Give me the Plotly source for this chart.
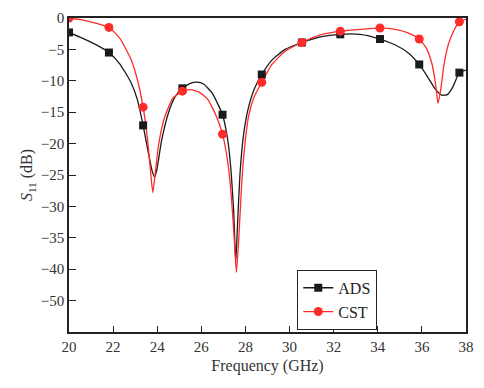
import plotly.graph_objects as go

# Marker positions (GHz) and values (dB)
ads_marker_x = [20.0, 21.81, 23.36, 25.14, 26.96, 28.74, 30.56, 32.3, 34.1, 35.88, 37.7]
ads_marker_y = [-2.3, -5.5, -17.1, -11.2, -15.4, -9.0, -3.9, -2.6, -3.35, -7.4, -8.7]
cst_marker_x = [20.0, 21.81, 23.36, 25.14, 26.96, 28.74, 30.56, 32.3, 34.1, 35.88, 37.7]
cst_marker_y = [0.0, -1.5, -14.2, -11.65, -18.5, -10.25, -3.9, -2.1, -1.6, -3.35, -0.6]

# Curve samples (GHz, dB)
ads_curve_x = [20.0, 20.6, 21.2, 21.81, 22.3, 22.8, 23.1, 23.36, 23.6, 23.78, 23.88, 23.98, 24.2, 24.5,
               24.8, 25.14, 25.5, 25.8, 26.1, 26.5, 26.96, 27.2, 27.35, 27.47, 27.56, 27.64, 27.75,
               27.9, 28.1, 28.4, 28.74, 29.2, 29.8, 30.56, 31.4, 32.3, 33.2, 34.1, 34.8, 35.4,
               35.88, 36.3, 36.6, 36.9, 37.15, 37.4, 37.7, 38.0]
ads_curve_y = [-2.3, -3.2, -4.2, -5.5, -7.3, -10.2, -13.0, -17.1, -21.5, -24.5, -25.3, -24.2, -19.5, -15.2,
               -12.6, -11.2, -10.4, -10.2, -10.5, -12.0, -15.4, -19.5, -24.5, -31.0, -39.0, -33.0, -25.0,
               -19.0, -14.8, -11.3, -9.0, -6.7, -5.0, -3.9, -3.0, -2.6, -2.6, -3.35, -4.3, -5.6,
               -7.4, -9.6, -11.3, -12.3, -12.2, -11.0, -8.7, -8.3]
cst_curve_x = [20.0, 20.6, 21.2, 21.81, 22.3, 22.8, 23.1, 23.36, 23.55, 23.7, 23.8, 23.9, 24.05, 24.3,
               24.7, 25.14, 25.5, 25.9, 26.3, 26.7, 26.96, 27.2, 27.35, 27.48, 27.59, 27.7, 27.82,
               27.95, 28.15, 28.4, 28.74, 29.2, 29.8, 30.56, 31.4, 32.3, 33.2, 34.1, 34.8, 35.4,
               35.88, 36.2, 36.45, 36.62, 36.73, 36.85, 37.0, 37.2, 37.45, 37.7, 38.0]
cst_curve_y = [0.0, -0.3, -0.8, -1.5, -3.2, -6.5, -9.8, -14.2, -19.0, -24.5, -27.8, -25.0, -20.5, -16.2,
               -12.8, -11.65, -11.4, -11.8, -13.0, -15.8, -18.5, -23.0, -28.0, -34.5, -40.5, -35.0, -27.0,
               -21.0, -15.5, -12.5, -10.25, -7.4, -5.3, -3.9, -2.7, -2.1, -1.8, -1.6, -1.8, -2.4,
               -3.35, -4.8, -7.2, -10.5, -13.6, -11.5, -7.5, -4.2, -2.0, -0.6, -0.2]

x_ticks = [20, 22, 24, 26, 28, 30, 32, 34, 36, 38]
y_tickvals = [0, -5, -10, -15, -20, -25, -30, -35, -40, -45]
y_ticktext = ["0", "\u22125", "\u221210", "\u221215", "\u221220", "\u221225", "\u221230",
              "\u221235", "\u221240", "\u221250"]

ADS_COLOR = "#1a1a1a"
CST_COLOR = "#ff2a2a"
FONT = "Liberation Serif, Times New Roman, serif"

fig = go.Figure()
fig.add_trace(go.Scatter(x=ads_curve_x, y=ads_curve_y, mode="lines",
                         line=dict(color=ADS_COLOR, width=1.3, shape="spline", smoothing=0.5),
                         showlegend=False, hoverinfo="skip"))
fig.add_trace(go.Scatter(x=cst_curve_x, y=cst_curve_y, mode="lines",
                         line=dict(color=CST_COLOR, width=1.3, shape="spline", smoothing=0.5),
                         showlegend=False, hoverinfo="skip"))
fig.add_trace(go.Scatter(x=ads_marker_x, y=ads_marker_y, mode="markers",
                         marker=dict(symbol="square", size=8, color=ADS_COLOR),
                         showlegend=False))
fig.add_trace(go.Scatter(x=cst_marker_x, y=cst_marker_y, mode="markers",
                         marker=dict(symbol="circle", size=9, color=CST_COLOR),
                         showlegend=False))
# legend entries
fig.add_trace(go.Scatter(x=[None], y=[None], mode="lines+markers", name="ADS",
                         line=dict(color=ADS_COLOR, width=1.3),
                         marker=dict(symbol="square", size=8, color=ADS_COLOR)))
fig.add_trace(go.Scatter(x=[None], y=[None], mode="lines+markers", name="CST",
                         line=dict(color=CST_COLOR, width=1.3),
                         marker=dict(symbol="circle", size=9, color=CST_COLOR)))

fig.update_layout(
    width=484, height=388,
    margin=dict(l=69, r=11, t=10, b=56),
    paper_bgcolor="white", plot_bgcolor="white",
    font=dict(family=FONT, size=15, color="#333"),
    showlegend=True,
    legend=dict(x=0.575, y=0.198, xanchor="left", yanchor="top",
                bordercolor="#222", borderwidth=1, bgcolor="white",
                font=dict(family=FONT, size=16, color="#222"),
                tracegroupgap=0, itemwidth=30),
)
fig.update_xaxes(range=[20, 38], tickvals=x_ticks, ticks="inside", ticklen=6,
                 tickcolor="#222", showline=True, linecolor="#222", linewidth=1.5,
                 mirror=True, showgrid=False, zeroline=False,
                 title=dict(text="Frequency (GHz)", standoff=6,
                            font=dict(family=FONT, size=16, color="#333")),
                 tickfont=dict(family=FONT, size=15, color="#333"))
fig.update_yaxes(range=[-50, 0], tickvals=y_tickvals, ticktext=y_ticktext,
                 ticks="inside", ticklen=7, tickcolor="#222",
                 showline=True, linecolor="#222", linewidth=1.5, mirror=True,
                 showgrid=False, zeroline=False,
                 title=dict(text="<i>S</i><sub>11</sub> (dB)", standoff=4,
                            font=dict(family=FONT, size=16, color="#333")),
                 tickfont=dict(family=FONT, size=15, color="#333"))

fig.write_html("out.html", config={"displayModeBar": False},
               post_script="document.body.style.margin='0';document.body.style.overflow='hidden';")
